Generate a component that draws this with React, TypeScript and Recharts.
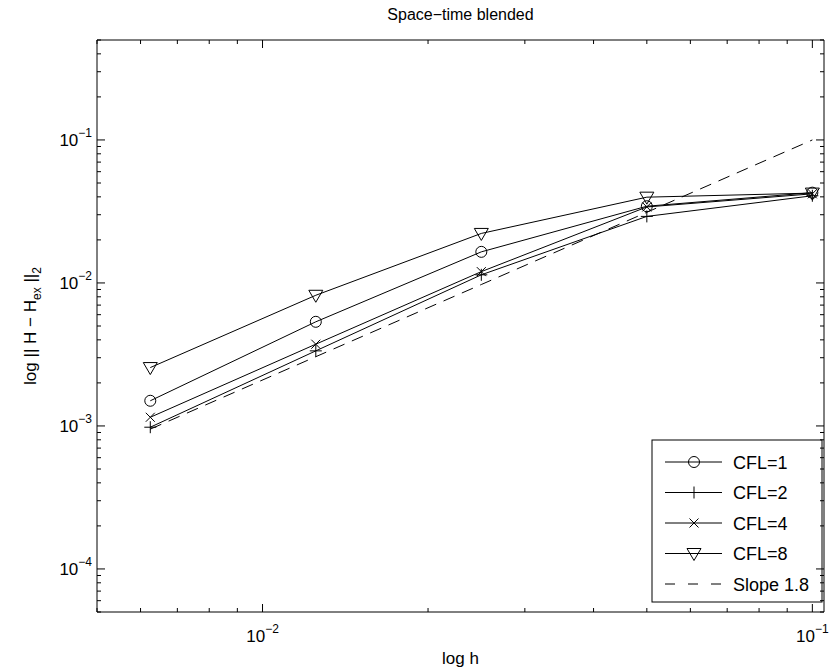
import React from 'react';
import { LineChart, Line, XAxis, YAxis, Customized } from 'recharts';

const hValues = [0.00625, 0.0125, 0.025, 0.05, 0.1];
const cfl1 = [1.5e-3, 5.35e-3, 0.0165, 0.0344, 0.0428];
const cfl2 = [9.8e-4, 3.35e-3, 0.0114, 0.0292, 0.0407];
const cfl4 = [1.15e-3, 3.73e-3, 0.012, 0.034, 0.042];
const cfl8 = [2.56e-3, 8.2e-3, 0.0222, 0.0398, 0.0425];
const slope18 = [9.5e-4, 3.05e-3, 9.75e-3, 0.0312, 0.1];

const xMajorTicks = [0.01, 0.1];
const xMajorExponents = ['\u22122', '\u22121'];
const xMinorTicks = [0.005, 0.006, 0.007, 0.008, 0.009, 0.02, 0.03, 0.04, 0.05, 0.06, 0.07, 0.08, 0.09];
const yMajorTicks = [1e-4, 1e-3, 1e-2, 1e-1];
const yMajorExponents = ['\u22124', '\u22123', '\u22122', '\u22121'];
const yMinorTicks = [
  5e-5, 6e-5, 7e-5, 8e-5, 9e-5,
  2e-4, 3e-4, 4e-4, 5e-4, 6e-4, 7e-4, 8e-4, 9e-4,
  2e-3, 3e-3, 4e-3, 5e-3, 6e-3, 7e-3, 8e-3, 9e-3,
  2e-2, 3e-2, 4e-2, 5e-2, 6e-2, 7e-2, 8e-2, 9e-2,
  0.2, 0.3, 0.4, 0.5,
];

const seriesNames = ['CFL=1', 'CFL=2', 'CFL=4', 'CFL=8', 'Slope 1.8'];
const seriesMarkers = ['circle', 'plus', 'cross', 'triangle', 'none'];
const titleText = 'Space\u2212time blended';
const xLabelText = 'log h';

const xDomain = [0.005, 0.105];
const yDomain = [5e-5, 0.5];

const data = hValues.map((h, i) => ({
  h,
  cfl1: cfl1[i],
  cfl2: cfl2[i],
  cfl4: cfl4[i],
  cfl8: cfl8[i],
  slope: slope18[i],
}));

const xAllTicks = [...xMinorTicks, ...xMajorTicks].sort((a, b) => a - b);
const yAllTicks = [...yMinorTicks, ...yMajorTicks].sort((a, b) => a - b);

const FONT = 'Liberation Sans, Arial, Helvetica, sans-serif';
const MAJOR = 8;
const MINOR = 4;
const DASH = '12 8';

const majorIndex = (v: number, majors: number[]) =>
  majors.findIndex((m) => Math.abs(m - v) / m < 1e-6);

const BottomTick = (props: any) => {
  const { x, y, payload } = props;
  const mi = majorIndex(payload.value, xMajorTicks);
  const len = mi >= 0 ? MAJOR : MINOR;
  return (
    <g>
      <line x1={x} x2={x} y1={y} y2={y - len} stroke="#000" strokeWidth={1} />
      {mi >= 0 && (
        <text x={x} y={y + 30} textAnchor="middle" fontSize={17} fontFamily={FONT} fill="#000">
          10
          <tspan dy={-9} fontSize={12}>{xMajorExponents[mi]}</tspan>
        </text>
      )}
    </g>
  );
};

const TopTick = (props: any) => {
  const { x, y, payload } = props;
  const mi = majorIndex(payload.value, xMajorTicks);
  const len = mi >= 0 ? MAJOR : MINOR;
  return <line x1={x} x2={x} y1={y} y2={y + len} stroke="#000" strokeWidth={1} />;
};

const LeftTick = (props: any) => {
  const { x, y, payload } = props;
  const mi = majorIndex(payload.value, yMajorTicks);
  const len = mi >= 0 ? MAJOR : MINOR;
  return (
    <g>
      <line x1={x} x2={x + len} y1={y} y2={y} stroke="#000" strokeWidth={1} />
      {mi >= 0 && (
        <text x={x - 5} y={y + 6} textAnchor="end" fontSize={17} fontFamily={FONT} fill="#000">
          10
          <tspan dy={-9} fontSize={12}>{yMajorExponents[mi]}</tspan>
        </text>
      )}
    </g>
  );
};

const RightTick = (props: any) => {
  const { x, y, payload } = props;
  const mi = majorIndex(payload.value, yMajorTicks);
  const len = mi >= 0 ? MAJOR : MINOR;
  return <line x1={x} x2={x - len} y1={y} y2={y} stroke="#000" strokeWidth={1} />;
};

const Marker = ({ type, cx, cy }: { type: string; cx: number; cy: number }) => {
  if (cx == null || cy == null) return null;
  const s = { stroke: '#000', strokeWidth: 1, fill: 'none' } as any;
  if (type === 'circle') return <circle cx={cx} cy={cy} r={5.5} {...s} />;
  if (type === 'plus')
    return (
      <path d={`M${cx - 6},${cy}H${cx + 6}M${cx},${cy - 6}V${cy + 6}`} {...s} />
    );
  if (type === 'cross')
    return (
      <path
        d={`M${cx - 4.5},${cy - 4.5}L${cx + 4.5},${cy + 4.5}M${cx - 4.5},${cy + 4.5}L${cx + 4.5},${cy - 4.5}`}
        {...s}
      />
    );
  if (type === 'triangle')
    return <path d={`M${cx - 7},${cy - 5}L${cx + 7},${cy - 5}L${cx},${cy + 7}Z`} {...s} />;
  return null;
};

const makeDot = (type: string) => (p: any) => (
  <Marker key={`${type}-${p.index}`} type={type} cx={p.cx} cy={p.cy} />
);

const Overlay = () => {
  const lx = 652;
  const ly = 440;
  const lw = 170;
  const lh = 162;
  return (
    <g fontFamily={FONT} fill="#000">
      <text x={460.5} y={20} textAnchor="middle" fontSize={16}>
        {titleText}
      </text>
      <text x={460.5} y={664} textAnchor="middle" fontSize={17}>
        {xLabelText}
      </text>
      <text
        transform="translate(36,326) rotate(-90)"
        x={0}
        y={0}
        textAnchor="middle"
        fontSize={17}
      >
        {'log || H \u2212 H'}
        <tspan dy={5} fontSize={12}>ex</tspan>
        <tspan dy={-5}>{' ||'}</tspan>
        <tspan dy={5} fontSize={12}>2</tspan>
      </text>
      <rect x={lx} y={ly} width={lw} height={lh} fill="#fff" stroke="#000" strokeWidth={1} />
      {seriesNames.map((name, i) => {
        const cy = ly + 22 + i * 30.5;
        const dashed = seriesMarkers[i] === 'none';
        return (
          <g key={name}>
            <line
              x1={lx + 13}
              x2={lx + 70}
              y1={cy}
              y2={cy}
              stroke="#000"
              strokeWidth={1}
              strokeDasharray={dashed ? '10 13' : undefined}
            />
            <Marker type={seriesMarkers[i]} cx={lx + 42} cy={cy} />
            <text x={lx + 81} y={cy + 6.5} fontSize={18}>
              {name}
            </text>
          </g>
        );
      })}
    </g>
  );
};

export default function App() {
  return (
    <div style={{ position: 'absolute', left: 0, top: 0, width: 837, height: 672, background: '#fff' }}>
      <LineChart
        width={837}
        height={672}
        data={data}
        margin={{ top: 39, right: 12, bottom: 0, left: 0 }}
      >
        <XAxis
          dataKey="h"
          type="number"
          scale="log"
          domain={xDomain}
          allowDataOverflow
          ticks={xAllTicks}
          interval={0}
          tick={<BottomTick />}
          tickLine={false}
          tickSize={0}
          tickMargin={0}
          height={60}
          axisLine={{ stroke: '#000', strokeWidth: 1 }}
        />
        <XAxis
          xAxisId="top"
          orientation="top"
          dataKey="h"
          type="number"
          scale="log"
          domain={xDomain}
          allowDataOverflow
          ticks={xAllTicks}
          interval={0}
          tick={<TopTick />}
          tickLine={false}
          tickSize={0}
          tickMargin={0}
          height={1}
          axisLine={{ stroke: '#000', strokeWidth: 1 }}
        />
        <YAxis
          type="number"
          scale="log"
          domain={yDomain}
          allowDataOverflow
          ticks={yAllTicks}
          interval={0}
          tick={<LeftTick />}
          tickLine={false}
          tickSize={0}
          tickMargin={0}
          width={97}
          axisLine={{ stroke: '#000', strokeWidth: 1 }}
        />
        <YAxis
          yAxisId="right"
          orientation="right"
          type="number"
          scale="log"
          domain={yDomain}
          allowDataOverflow
          ticks={yAllTicks}
          interval={0}
          tick={<RightTick />}
          tickLine={false}
          tickSize={0}
          tickMargin={0}
          width={1}
          axisLine={{ stroke: '#000', strokeWidth: 1 }}
        />
        <Line dataKey="slope" stroke="#000" strokeWidth={1} strokeDasharray={DASH} dot={false} isAnimationActive={false} />
        <Line dataKey="cfl1" stroke="#000" strokeWidth={1} dot={makeDot('circle')} isAnimationActive={false} />
        <Line dataKey="cfl2" stroke="#000" strokeWidth={1} dot={makeDot('plus')} isAnimationActive={false} />
        <Line dataKey="cfl4" stroke="#000" strokeWidth={1} dot={makeDot('cross')} isAnimationActive={false} />
        <Line dataKey="cfl8" stroke="#000" strokeWidth={1} dot={makeDot('triangle')} isAnimationActive={false} />
        <Customized component={<Overlay />} />
      </LineChart>
    </div>
  );
}
